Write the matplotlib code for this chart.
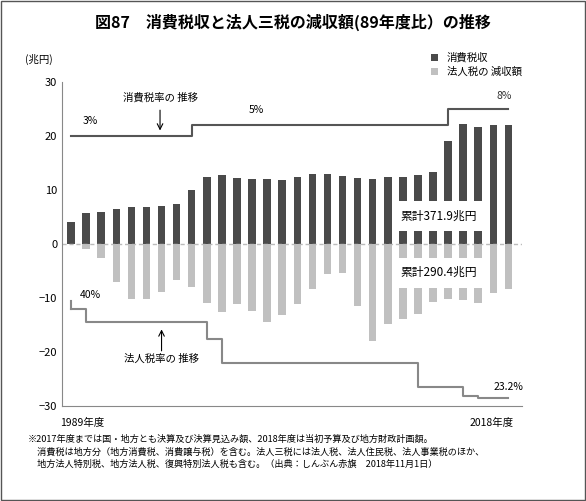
import matplotlib
matplotlib.use('Agg')
import matplotlib.pyplot as plt
import numpy as np

plt.rcParams['font.family'] = ['Noto Sans CJK JP', 'DejaVu Sans']

years = list(range(1989, 2019))
consumption = [4.0, 5.7, 5.9, 6.4, 6.9, 6.9, 7.1, 7.4, 10.0, 12.5, 12.8, 12.2, 12.0, 12.0, 11.9,
               12.5, 12.9, 12.9, 12.6, 12.2, 12.0, 12.5, 12.5, 12.8, 13.3, 19.0, 22.3, 21.6, 22.0, 22.0]
corp_cut = [0, -0.9, -2.6, -7.0, -10.1, -10.2, -8.8, -6.6, -8.0, -10.9, -12.6, -11.1, -12.4, -14.4, -13.2,
            -11.1, -8.4, -5.6, -5.3, -11.4, -17.9, -14.9, -13.8, -12.9, -10.8, -10.2, -10.4, -10.9, -9.0, -8.4]
cons_rate = [3]*8 + [5]*17 + [8]*5
corp_rate = [40] + [37.5]*8 + [34.5] + [30]*13 + [25.5]*3 + [23.9] + [23.4]*3

fig = plt.figure(figsize=(5.86, 5.01), dpi=100)
ax = fig.add_axes([62/586, 1-406/501, 460/586, 324/501])
x = np.arange(len(years))
ax.bar(x, consumption, width=0.5, color='#4a4a4a', label='消費税収')
ax.bar(x, corp_cut, width=0.5, color='#c0c0c0', label='法人税の 減収額')
ax.axhline(0, color='#bbbbbb', lw=1, ls=(0, (3, 2)))
ax.plot(x, [17 + r for r in cons_rate], drawstyle='steps-post', color='#555555', lw=1.5)
ax.plot(x, [-12 - (40 - r) for r in corp_rate], drawstyle='steps-post', color='#888888', lw=1.5)
ax.plot([0, 0], [-10.5, -12], color='#888888', lw=1.5)

ax.set_xlim(-0.6, 29.9)
ax.set_ylim(-30, 30)
ax.set_yticks(range(-30, 31, 10))
ax.tick_params(axis='y', length=0, labelsize=8)
ax.set_xticks([])
for s in ['top', 'right']:
    ax.spines[s].set_visible(False)
ax.spines['left'].set_color('#888888')
ax.spines['bottom'].set_color('#888888')
ax.spines['bottom'].set_position(('data', -30))

fs = 7.5
ax.text(1.3, 22.3, '3%', fontsize=fs, ha='center')
ax.text(12.3, 24.3, '5%', fontsize=fs, ha='center')
ax.text(28.7, 26.8, '8%', fontsize=fs, ha='center', color='#333333')
ax.text(1.3, -10.0, '40%', fontsize=fs, ha='center')
ax.text(29.0, -27.0, '23.2%', fontsize=fs, ha='center')
ax.text(5.9, 26.6, '消費税率の 推移', fontsize=fs, ha='center')
ax.annotate('', xy=(5.9, 20.5), xytext=(5.9, 25.3), arrowprops=dict(arrowstyle='->', lw=0.8))
ax.text(6.0, -21.8, '法人税率の 推移', fontsize=fs, ha='center')
ax.annotate('', xy=(6.0, -15.3), xytext=(6.0, -20.3), arrowprops=dict(arrowstyle='->', lw=0.8))
ax.text(24.4, 5.2, '累計371.9兆円', fontsize=8.5, ha='center', va='center',
        bbox=dict(facecolor='white', edgecolor='none', pad=6))
ax.text(24.4, -5.3, '累計290.4兆円', fontsize=8.5, ha='center', va='center',
        bbox=dict(facecolor='white', edgecolor='none', pad=6))
ax.legend(loc='upper right', bbox_to_anchor=(1.02, 1.12), frameon=False, fontsize=7.5,
          handlelength=0.7, handleheight=0.7, labelspacing=0.4)

fig.text(25/586, 1-63/501, '(兆円)', fontsize=7.5)
fig.text(60/586, 1-426/501, '1989年度', fontsize=7.5)
fig.text(470/586, 1-426/501, '2018年度', fontsize=7.5)
fig.text(293/586, 1-22/501, '図87　消費税収と法人三税の減収額(89年度比）の推移', fontsize=11.5,
         ha='center', va='center', fontweight='bold')
fig.text(28/586, 1-452/501, '※2017年度までは国・地方とも決算及び決算見込み額、2018年度は当初予算及び地方財政計画額。\n'
         '　消費税は地方分（地方消費税、消費譲与税）を含む。法人三税には法人税、法人住民税、法人事業税のほか、\n'
         '　地方法人特別税、地方法人税、復興特別法人税も含む。（出典：しんぶん赤旗　2018年11月1日）',
         fontsize=6.6, va='center', linespacing=1.5)
fig.patches.append(plt.Rectangle((0.002, 0.002), 0.996, 0.996, transform=fig.transFigure,
                                 fill=False, edgecolor='#555555', lw=1))
fig.savefig('out.png', dpi=100)
